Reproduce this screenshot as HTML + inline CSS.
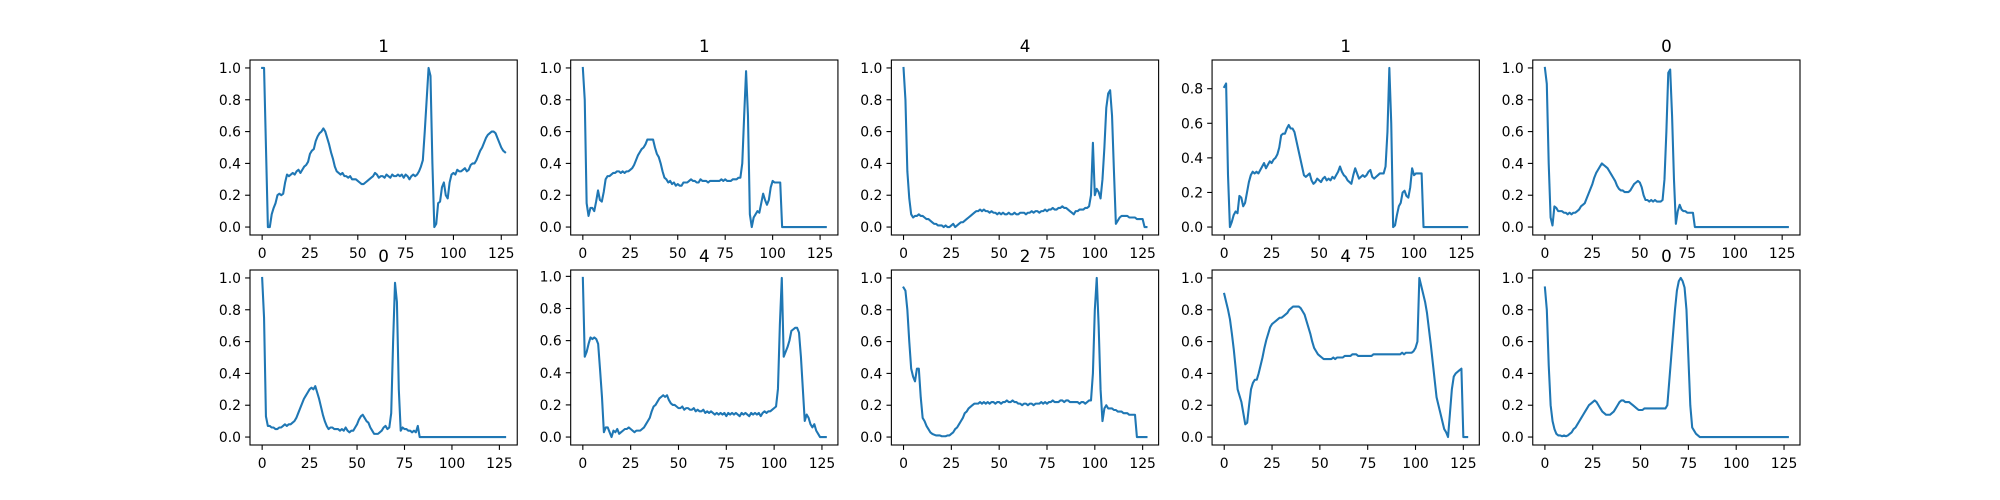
<!DOCTYPE html>
<html><head><meta charset="utf-8"><style>
html,body{margin:0;padding:0;background:#fff;}
svg{display:block;font-family:"DejaVu Sans","Liberation Sans",sans-serif;}
</style></head><body>
<svg id="fig" width="2000" height="500" viewBox="0 0 2000 500" xmlns="http://www.w3.org/2000/svg"></svg>
<script>
const titles = ["1","1","4","1","0","0","4","2","4","0"];
const xTicks = [0,25,50,75,100,125];
const s1 = [1,1,0.5,0,0,0.08,0.12,0.15,0.2,0.21,0.2,0.21,0.28,0.33,0.32,0.33,0.34,0.33,0.35,0.36,0.34,0.36,0.38,0.39,0.41,0.46,0.48,0.49,0.54,0.57,0.59,0.6,0.62,0.6,0.56,0.52,0.47,0.43,0.38,0.35,0.34,0.33,0.34,0.32,0.32,0.31,0.32,0.3,0.3,0.3,0.29,0.28,0.27,0.27,0.28,0.29,0.3,0.31,0.32,0.34,0.33,0.31,0.32,0.32,0.31,0.33,0.32,0.31,0.33,0.32,0.32,0.33,0.32,0.33,0.31,0.33,0.32,0.3,0.32,0.33,0.32,0.33,0.35,0.38,0.42,0.6,0.8,1.0,0.95,0.4,0,0.02,0.15,0.16,0.25,0.28,0.2,0.18,0.28,0.33,0.34,0.33,0.36,0.35,0.35,0.36,0.37,0.35,0.36,0.39,0.4,0.4,0.42,0.45,0.48,0.5,0.53,0.56,0.58,0.59,0.6,0.6,0.59,0.56,0.53,0.5,0.48,0.47];
const s2 = [1,0.8,0.15,0.07,0.12,0.12,0.1,0.16,0.23,0.17,0.16,0.22,0.3,0.32,0.32,0.33,0.34,0.34,0.35,0.35,0.34,0.35,0.34,0.35,0.35,0.36,0.37,0.39,0.42,0.45,0.47,0.49,0.5,0.52,0.55,0.55,0.55,0.55,0.5,0.46,0.44,0.4,0.35,0.31,0.3,0.28,0.29,0.27,0.28,0.26,0.27,0.26,0.26,0.28,0.28,0.28,0.29,0.3,0.29,0.29,0.28,0.28,0.3,0.29,0.29,0.29,0.28,0.29,0.29,0.29,0.29,0.29,0.29,0.3,0.29,0.3,0.29,0.29,0.29,0.3,0.3,0.3,0.31,0.31,0.4,0.7,0.98,0.7,0.08,0,0.06,0.08,0.1,0.09,0.15,0.21,0.17,0.14,0.17,0.25,0.29,0.28,0.28,0.28,0.28,0,0,0,0,0,0,0,0,0,0,0,0,0,0,0,0,0,0,0,0,0,0,0,0];
const s3 = [1,0.8,0.35,0.18,0.08,0.06,0.07,0.07,0.08,0.07,0.07,0.06,0.05,0.05,0.04,0.03,0.02,0.02,0.01,0.01,0.01,0,0.01,0,0,0.01,0.02,0,0.01,0.02,0.03,0.03,0.04,0.05,0.06,0.07,0.08,0.09,0.1,0.1,0.11,0.1,0.11,0.1,0.1,0.09,0.1,0.09,0.09,0.08,0.09,0.08,0.09,0.08,0.08,0.09,0.08,0.08,0.09,0.08,0.08,0.09,0.09,0.09,0.08,0.09,0.09,0.1,0.09,0.1,0.1,0.09,0.1,0.1,0.11,0.1,0.11,0.11,0.12,0.11,0.11,0.12,0.12,0.13,0.12,0.12,0.11,0.1,0.09,0.08,0.1,0.1,0.11,0.11,0.11,0.12,0.12,0.13,0.2,0.53,0.2,0.24,0.22,0.18,0.3,0.5,0.75,0.84,0.86,0.7,0.35,0.02,0.04,0.06,0.07,0.07,0.07,0.07,0.06,0.06,0.06,0.06,0.05,0.05,0.05,0.05,0,0];
const s4 = [0.81,0.83,0.3,0,0.03,0.07,0.09,0.08,0.18,0.17,0.12,0.14,0.2,0.26,0.3,0.32,0.31,0.32,0.31,0.33,0.35,0.37,0.34,0.36,0.38,0.37,0.39,0.4,0.42,0.46,0.53,0.54,0.54,0.57,0.59,0.57,0.57,0.55,0.5,0.45,0.4,0.35,0.3,0.29,0.3,0.31,0.27,0.25,0.26,0.28,0.27,0.26,0.28,0.29,0.27,0.28,0.27,0.29,0.28,0.3,0.32,0.35,0.32,0.3,0.29,0.27,0.26,0.25,0.3,0.34,0.31,0.28,0.29,0.3,0.29,0.3,0.32,0.33,0.29,0.28,0.29,0.3,0.31,0.31,0.31,0.35,0.55,0.92,0.6,0,0.01,0.07,0.12,0.14,0.2,0.21,0.18,0.17,0.23,0.34,0.3,0.31,0.31,0.31,0.31,0,0,0,0,0,0,0,0,0,0,0,0,0,0,0,0,0,0,0,0,0,0,0,0];
const s5 = [1,0.9,0.4,0.06,0.01,0.13,0.12,0.1,0.1,0.1,0.09,0.09,0.08,0.09,0.08,0.09,0.09,0.1,0.11,0.13,0.14,0.15,0.18,0.21,0.24,0.27,0.31,0.34,0.36,0.38,0.4,0.39,0.38,0.37,0.35,0.33,0.31,0.29,0.26,0.24,0.23,0.23,0.22,0.22,0.22,0.23,0.25,0.27,0.28,0.29,0.28,0.25,0.2,0.17,0.17,0.16,0.17,0.16,0.17,0.16,0.16,0.16,0.17,0.3,0.6,0.97,0.99,0.7,0.3,0.02,0.1,0.14,0.11,0.1,0.1,0.09,0.09,0.09,0.09,0,0,0,0,0,0,0,0,0,0,0,0,0,0,0,0,0,0,0,0,0,0,0,0,0,0,0,0,0,0,0,0,0,0,0,0,0,0,0,0,0,0,0,0,0,0,0,0,0,0];
const s6 = [1,0.75,0.13,0.07,0.07,0.06,0.06,0.05,0.05,0.06,0.06,0.07,0.08,0.07,0.08,0.08,0.09,0.1,0.12,0.15,0.18,0.21,0.24,0.26,0.28,0.3,0.31,0.3,0.32,0.28,0.24,0.19,0.14,0.1,0.07,0.05,0.06,0.06,0.05,0.05,0.05,0.04,0.05,0.04,0.06,0.04,0.03,0.04,0.04,0.06,0.08,0.11,0.13,0.14,0.12,0.1,0.09,0.06,0.04,0.02,0.02,0.02,0.03,0.04,0.06,0.07,0.05,0.06,0.15,0.6,0.97,0.85,0.3,0.04,0.06,0.05,0.05,0.04,0.04,0.03,0.04,0.03,0.07,0,0,0,0,0,0,0,0,0,0,0,0,0,0,0,0,0,0,0,0,0,0,0,0,0,0,0,0,0,0,0,0,0,0,0,0,0,0,0,0,0,0,0,0,0,0];
const s7 = [0.99,0.5,0.53,0.58,0.62,0.61,0.62,0.61,0.58,0.42,0.25,0.03,0.06,0.06,0.03,0,0.04,0.03,0.05,0.02,0.03,0.04,0.05,0.05,0.06,0.05,0.04,0.03,0.04,0.04,0.04,0.05,0.06,0.08,0.1,0.12,0.16,0.19,0.2,0.22,0.24,0.25,0.26,0.25,0.26,0.23,0.21,0.2,0.2,0.19,0.18,0.18,0.19,0.17,0.18,0.18,0.17,0.17,0.18,0.16,0.17,0.16,0.16,0.17,0.15,0.16,0.15,0.16,0.15,0.14,0.15,0.14,0.15,0.14,0.15,0.13,0.15,0.14,0.15,0.14,0.15,0.14,0.13,0.15,0.14,0.15,0.14,0.13,0.15,0.14,0.15,0.14,0.15,0.13,0.15,0.16,0.15,0.16,0.16,0.17,0.18,0.19,0.3,0.7,0.99,0.5,0.53,0.56,0.6,0.66,0.67,0.68,0.68,0.65,0.5,0.3,0.1,0.14,0.12,0.08,0.06,0.08,0.04,0.02,0,0,0,0];
const s8 = [0.94,0.92,0.8,0.6,0.43,0.38,0.35,0.43,0.43,0.25,0.12,0.1,0.07,0.05,0.03,0.02,0.015,0.01,0.01,0.01,0.005,0.005,0.005,0.01,0.01,0.02,0.03,0.05,0.06,0.08,0.1,0.12,0.15,0.16,0.18,0.19,0.2,0.21,0.21,0.21,0.22,0.21,0.22,0.21,0.22,0.21,0.22,0.22,0.21,0.22,0.22,0.21,0.22,0.22,0.23,0.22,0.22,0.23,0.22,0.22,0.21,0.21,0.2,0.21,0.21,0.2,0.21,0.21,0.2,0.21,0.21,0.21,0.22,0.21,0.22,0.21,0.22,0.22,0.23,0.22,0.22,0.22,0.23,0.23,0.22,0.23,0.23,0.22,0.22,0.22,0.22,0.22,0.21,0.22,0.22,0.21,0.22,0.23,0.23,0.4,0.8,1,0.7,0.3,0.1,0.18,0.2,0.18,0.18,0.18,0.17,0.17,0.16,0.16,0.16,0.15,0.15,0.15,0.14,0.14,0.14,0.14,0,0,0,0,0,0];
const s9 = [0.9,0.85,0.8,0.74,0.65,0.55,0.43,0.3,0.26,0.22,0.15,0.08,0.09,0.2,0.3,0.34,0.36,0.36,0.4,0.45,0.5,0.56,0.61,0.65,0.69,0.71,0.72,0.73,0.74,0.75,0.75,0.76,0.77,0.78,0.8,0.81,0.82,0.82,0.82,0.82,0.81,0.79,0.77,0.73,0.69,0.65,0.6,0.56,0.54,0.52,0.51,0.5,0.49,0.49,0.49,0.49,0.49,0.5,0.49,0.5,0.5,0.5,0.5,0.51,0.51,0.51,0.51,0.52,0.52,0.52,0.51,0.51,0.51,0.51,0.51,0.51,0.51,0.51,0.52,0.52,0.52,0.52,0.52,0.52,0.52,0.52,0.52,0.52,0.52,0.52,0.52,0.52,0.52,0.53,0.52,0.53,0.53,0.53,0.53,0.54,0.56,0.6,1,0.95,0.9,0.85,0.78,0.68,0.58,0.47,0.36,0.25,0.2,0.15,0.1,0.05,0.03,0,0.15,0.3,0.38,0.4,0.41,0.42,0.43,0,0,0];
const s10 = [0.94,0.8,0.45,0.2,0.1,0.05,0.02,0.01,0.01,0.005,0.01,0.005,0.01,0.02,0.03,0.05,0.06,0.08,0.1,0.12,0.14,0.16,0.18,0.2,0.21,0.22,0.23,0.22,0.2,0.18,0.16,0.15,0.14,0.14,0.14,0.15,0.16,0.18,0.2,0.22,0.23,0.23,0.22,0.22,0.22,0.21,0.2,0.19,0.18,0.17,0.17,0.17,0.18,0.18,0.18,0.18,0.18,0.18,0.18,0.18,0.18,0.18,0.18,0.18,0.2,0.35,0.5,0.65,0.8,0.92,0.98,1,0.98,0.94,0.8,0.5,0.2,0.06,0.04,0.02,0.01,0,0,0,0,0,0,0,0,0,0,0,0,0,0,0,0,0,0,0,0,0,0,0,0,0,0,0,0,0,0,0,0,0,0,0,0,0,0,0,0,0,0,0,0,0,0,0];
const series = [s1,s2,s3,s4,s5,s6,s7,s8,s9,s10];

const NS = "http://www.w3.org/2000/svg";
const svg = document.getElementById('fig');
const AW = 1550/5.8, GAP = AW*0.2, AH = 175;
function mk(tag, attrs, parent){ const e=document.createElementNS(NS,tag); for(const k in attrs) e.setAttribute(k,attrs[k]); parent.appendChild(e); return e; }

series.forEach((vals, i) => {
  const r = Math.floor(i/5), c = i%5;
  const x0 = 250 + c*(AW+GAP), y0 = 60 + r*(AH+35);
  const g = mk('g', {}, svg);
  
  
  const n = vals.length - 1;
  const xmin = -0.05*n, xmax = n*1.05;
  let lo = Math.min(...vals), hi = Math.max(...vals);
  const pad = (hi-lo)*0.05; const ymin = lo-pad, ymax = hi+pad;
  const sx = v => x0 + (v-xmin)/(xmax-xmin)*AW;
  const sy = v => y0 + AH - (v-ymin)/(ymax-ymin)*AH;
  // line
  const d = vals.map((v,k)=>(k?'L':'M')+sx(k).toFixed(2)+','+sy(v).toFixed(2)).join('');
  const p = mk('path', {d:d, fill:'none', stroke:'#1f77b4', 'stroke-width':2.08, 'stroke-linejoin':'round', 'stroke-linecap':'square'}, g);
  
  
  // frame
  const f = mk('rect', {x:x0, y:y0, width:AW, height:AH, fill:'none', stroke:'#000', 'stroke-width':1.1}, g);
  
  
  // x ticks
  xTicks.forEach(t => {
    const X = sx(t);
    mk('line', {x1:X, x2:X, y1:y0+AH, y2:y0+AH+4.9, stroke:'#000', 'stroke-width':1.1}, g);
    const tx = mk('text', {x:X, y:y0+AH+23, 'font-size':13.9, 'text-anchor':'middle', fill:'#000'}, g);
    tx.textContent = t;
    
    
  });
  // y ticks
  for (let t=0; t<=ymax+1e-9; t+=0.2) {
    const tv = Math.round(t*10)/10;
    if (tv < ymin) continue;
    const Y = sy(tv);
    mk('line', {x1:x0-4.9, x2:x0, y1:Y, y2:Y, stroke:'#000', 'stroke-width':1.1}, g);
    const ty = mk('text', {x:x0-9, y:Y+5, 'font-size':13.9, 'text-anchor':'end', fill:'#000'}, g);
    ty.textContent = tv.toFixed(1);
    
    
  }
  const tt = mk('text', {x:x0+AW/2, y:y0-8, 'font-size':16.7, 'text-anchor':'middle', fill:'#000'}, g);
  tt.textContent = titles[i];
  
  
});
</script>
</body></html>
